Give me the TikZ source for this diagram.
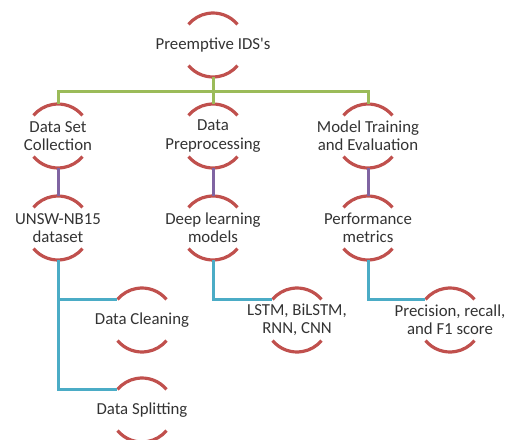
\documentclass[tikz,border=0pt]{standalone}
\usepackage{fontspec}
\setmainfont{Carlito}[Ligatures=TeXOff]
\definecolor{arcred}{HTML}{C0504D}
\definecolor{lgreen}{HTML}{9BBB59}
\definecolor{lpurple}{HTML}{8064A2}
\definecolor{lblue}{HTML}{4BACC6}
\definecolor{txt}{HTML}{333333}
\begin{document}
\begin{tikzpicture}[x=1pt,y=1pt,
  lt/.style={text=txt, font=\fontsize{16.8}{18.4}\selectfont, align=center, inner sep=0pt},
  hub/.style={circle, minimum size=64pt, inner sep=0pt, outer sep=0pt, label={[lt]center:{#1}}},
  arcline/.style={draw=arcred, line width=3.2pt},
  gline/.style={draw=lgreen, line width=3pt},
  pline/.style={draw=lpurple, line width=3pt},
  bline/.style={draw=lblue, line width=3pt}]
\useasboundingbox (0,0) rectangle (511,-439);
\clip (0,0) rectangle (511,-439);
% nodes
\node[hub={Preemptive IDS's}] (root) at (213,-45) {};
\node[hub={Data Set\\Collection}] (dsc) at (58,-136) {};
\node[hub={Data\\Preprocessing}] (dp) at (213,-136) {};
\node[hub={Model Training\\and Evaluation}] (mte) at (368,-136) {};
\node[hub={UNSW-NB15\\dataset}] (unsw) at (58,-228) {};
\node[hub={Deep learning\\models}] (dl) at (213,-228) {};
\node[hub={Performance\\metrics}] (pm) at (368,-228) {};
\node[hub={Data Cleaning}] (dc) at (142,-320) {};
\node[hub={Data Splitting}] (ds) at (142,-410) {};
\node[hub={LSTM, BiLSTM,\\RNN, CNN}] (lstm) at (297,-320) {};
\node[hub={Precision, recall,\\and F1 score}] (prf) at (450,-320) {};
% arcs
\foreach \n in {root,dsc,dp,mte,unsw,dl,pm,dc,ds,lstm,prf}{
  \draw[arcline] (\n.40) arc[start angle=40, end angle=140, radius=32pt];
  \draw[arcline] (\n.220) arc[start angle=220, end angle=320, radius=32pt];
}
% green connectors
\coordinate (gj) at (213,-91);
\draw[gline] (root.south) -- (gj);
\draw[gline] (dsc.north) |- (gj) -| (mte.north);
\draw[gline] (gj) -- (dp.north);
% purple connectors
\draw[pline] (dsc.south) -- (unsw.north);
\draw[pline] (dp.south) -- (dl.north);
\draw[pline] (mte.south) -- (pm.north);
% blue connectors
\draw[bline] (unsw.south) |- (dc.140);
\draw[bline] (unsw.south) |- (ds.140);
\draw[bline] (dl.south) |- (lstm.140);
\draw[bline] (pm.south) |- (prf.140);
\end{tikzpicture}
\end{document}
